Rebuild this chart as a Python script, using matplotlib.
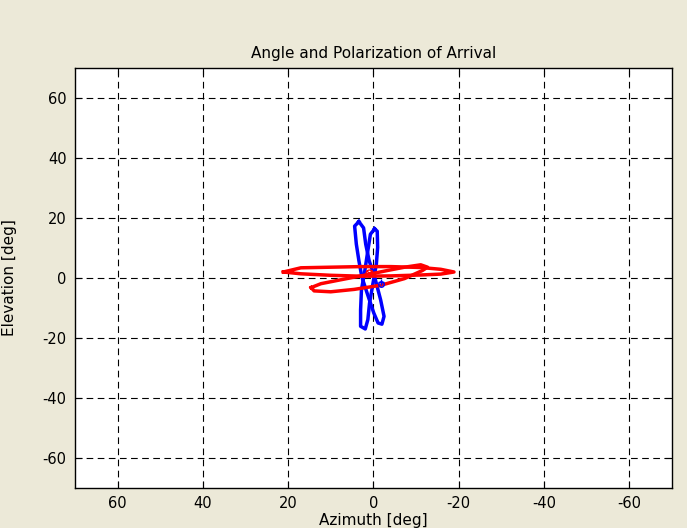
import matplotlib
matplotlib.use("Agg")
import matplotlib.pyplot as plt

plt.rcParams['font.family'] = ['DejaVu Sans']
plt.rcParams['axes.unicode_minus'] = False

# blue loops (azimuth, elevation)
blue1_az = [3.4, 4.4, 4.0, 3.4, 2.7, 1.2, -0.1, -1.1, -2.0, -2.5, -1.7, -0.3, 1.0, 1.8, 2.3, 3.4]
blue1_el = [18.8, 17.3, 11.3, 5.8, 0.3, -6.2, -11.7, -15.0, -15.4, -12.8, -7.3, 0.3, 5.8, 11.3, 16.7, 18.8]
blue2_az = [-0.3, -0.9, -1.0, -0.7, 0.1, 0.9, 1.3, 1.9, 3.0, 3.0, 2.8, 2.0, 1.3, 0.7, -0.3]
blue2_el = [16.4, 15.6, 10.2, 4.7, -1.8, -8.4, -13.9, -17.0, -16.1, -10.6, -4.0, 2.5, 9.1, 14.6, 16.4]

# red loops
red1_az = [21.1, 17.0, 10.0, 2.9, -4.1, -11.1, -15.8, -18.9, -15.8, -11.1, -4.1, 2.9, 10.0, 17.0, 21.1]
red1_el = [2.0, 3.4, 3.6, 3.8, 3.8, 3.5, 2.9, 2.0, 1.3, 1.0, 0.7, 0.6, 0.9, 1.4, 2.0]
red2_az = [14.6, 12.3, 8.4, 2.2, -3.3, -7.3, -11.1, -12.7, -11.5, -7.3, -1.8, 4.5, 10.0, 13.9, 14.6]
red2_el = [-3.2, -1.9, -0.8, 0.9, 2.5, 3.6, 4.4, 3.6, 2.5, -0.2, -2.4, -3.8, -4.6, -4.3, -3.2]

red_mark = (1.1, 1.6)
blue_mark = (-1.8, -1.3)

ticks = [60, 40, 20, 0, -20, -40, -60]

fig = plt.figure(figsize=(6.87, 5.28), dpi=100, facecolor='#ECE9D8')
ax = fig.add_axes([0.109, 0.076, 0.869, 0.795])

ax.plot(blue1_az, blue1_el, color='#0000FF', lw=2.5)
ax.plot(blue2_az, blue2_el, color='#0000FF', lw=2.5)
ax.plot(red1_az, red1_el, color='#FF0000', lw=2.5)
ax.plot(red2_az, red2_el, color='#FF0000', lw=2.5)
ax.plot(*red_mark, marker='o', ms=5, mfc='none', mec='#FF0000', mew=1)
ax.plot(*red_mark, marker='x', ms=4, color='#FF0000', mew=1)
ax.plot(*blue_mark, marker='+', ms=5, color='#0000FF', mew=1)
ax.plot(blue_mark[0], blue_mark[1] - 0.8, marker='o', ms=4, mfc='none', mec='#0000FF', mew=1)

ax.set_xlim(70, -70)
ax.set_ylim(-70, 70)
ax.set_xticks(ticks)
ax.set_yticks(ticks)
ax.grid(True, color='black', linestyle=(0, (6, 4)), linewidth=0.8)
ax.tick_params(direction='in', top=True, right=True, length=5, labelsize=10.5, pad=6)
for s in ax.spines.values():
    s.set_linewidth(1)

ax.set_title('Angle and Polarization of Arrival', fontsize=11, pad=7)
ax.set_xlabel('Azimuth [deg]', fontsize=11, labelpad=1)
ax.set_ylabel('Elevation [deg]', fontsize=11)
ax.yaxis.set_label_coords(-0.097, 0.5)

fig.savefig('out.png', facecolor=fig.get_facecolor())
